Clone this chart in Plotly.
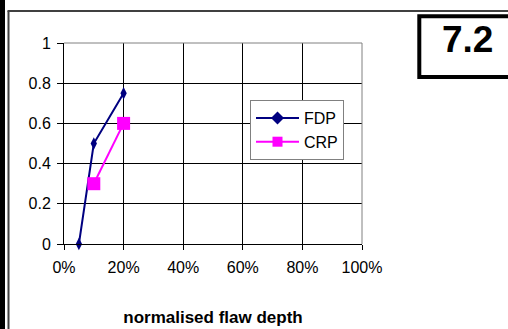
import plotly.graph_objects as go

# Normalised flaw depth (fraction) and probability values per series
fdp_depth = [0.05, 0.10, 0.20]
fdp_value = [0.0, 0.5, 0.75]
crp_depth = [0.10, 0.20]
crp_value = [0.3, 0.6]

x_ticks = [0, 0.2, 0.4, 0.6, 0.8, 1.0]
x_labels = ["0%", "20%", "40%", "60%", "80%", "100%"]
y_ticks = [0, 0.2, 0.4, 0.6, 0.8, 1.0]
y_labels = ["0", "0.2", "0.4", "0.6", "0.8", "1"]
x_title = "normalised flaw depth"
badge_text = "7.2"

FDP_COLOR = "#000080"
CRP_COLOR = "#FF00FF"
FONT = "Liberation Sans, Arial, sans-serif"

W_FIG, H_FIG = 508, 329
L, R, T, B = 64, 362, 43, 244  # plot area in pixels


def px(x):
    return (x - L) / (R - L)


def py(y):
    return (B - y) / (B - T)


fig = go.Figure()

# data traces (legend uses separate proxy entries)
fig.add_trace(go.Scatter(
    x=fdp_depth, y=fdp_value, mode="lines+markers", name="FDP",
    line=dict(color=FDP_COLOR, width=2),
    marker=dict(symbol="diamond-tall", size=9, color=FDP_COLOR),
    showlegend=False, cliponaxis=False,
))
fig.add_trace(go.Scatter(
    x=crp_depth, y=crp_value, mode="lines+markers", name="CRP",
    line=dict(color=CRP_COLOR, width=2),
    marker=dict(symbol="square", size=13, color=CRP_COLOR),
    showlegend=False, cliponaxis=False,
))
# legend entries
fig.add_trace(go.Scatter(
    x=[None], y=[None], mode="lines+markers", name="FDP",
    line=dict(color=FDP_COLOR, width=2),
    marker=dict(symbol="diamond", size=10, color=FDP_COLOR),
))
fig.add_trace(go.Scatter(
    x=[None], y=[None], mode="lines+markers", name="CRP",
    line=dict(color=CRP_COLOR, width=2),
    marker=dict(symbol="square", size=10, color=CRP_COLOR),
))

shapes = [
    # heavy black strip on the left edge
    dict(type="rect", xref="paper", yref="paper",
         x0=px(0), x1=px(5), y0=py(0), y1=py(H_FIG + 5),
         fillcolor="black", line=dict(width=0), layer="above"),
    # chart frame (left and top)
    dict(type="line", xref="paper", yref="paper",
         x0=px(8.5), x1=px(8.5), y0=py(11), y1=py(H_FIG + 5),
         line=dict(color="#404040", width=2)),
    dict(type="line", xref="paper", yref="paper",
         x0=px(7.5), x1=px(W_FIG + 5), y0=py(11), y1=py(11),
         line=dict(color="#404040", width=2)),
    # plot area border (top and right, grey)
    dict(type="line", xref="paper", yref="paper",
         x0=0, x1=1, y0=1, y1=1,
         line=dict(color="#808080", width=1), layer="above"),
    dict(type="line", xref="paper", yref="paper",
         x0=1, x1=1, y0=0, y1=1,
         line=dict(color="#808080", width=1), layer="above"),
    # badge box
    dict(type="rect", xref="paper", yref="paper",
         x0=px(419.3), x1=px(W_FIG + 20), y0=py(77), y1=py(16.3),
         fillcolor="white", line=dict(color="black", width=4),
         layer="below"),
]

annotations = [
    dict(text="<b>%s</b>" % badge_text, xref="paper", yref="paper",
         x=px(467), y=py(39.5), xanchor="center", yanchor="middle",
         showarrow=False, font=dict(family=FONT, size=37, color="black")),
]

fig.update_layout(
    width=W_FIG, height=H_FIG,
    margin=dict(l=L, r=W_FIG - R, t=T, b=H_FIG - B, pad=0),
    paper_bgcolor="white", plot_bgcolor="white",
    font=dict(family=FONT, color="black"),
    shapes=shapes, annotations=annotations,
    legend=dict(
        x=px(250), y=py(100), xanchor="left", yanchor="top",
        bgcolor="white", bordercolor="#808080", borderwidth=1,
        font=dict(family=FONT, size=16, color="black"),
        tracegroupgap=0, itemwidth=43,
    ),
    xaxis=dict(
        range=[0, 1], tickvals=x_ticks, ticktext=x_labels,
        showgrid=True, gridcolor="black", gridwidth=1,
        showline=True, linecolor="black", linewidth=1,
        ticks="outside", ticklen=5, tickcolor="black",
        tickfont=dict(family=FONT, size=16, color="black"),
        ticklabelstandoff=4,
        zeroline=False,
        title=dict(text="<b>%s</b>" % x_title, standoff=35,
                   font=dict(family=FONT, size=17, color="black")),
        automargin=False,
    ),
    yaxis=dict(
        range=[0, 1], tickvals=y_ticks, ticktext=y_labels,
        showgrid=True, gridcolor="black", gridwidth=1,
        showline=True, linecolor="black", linewidth=1,
        ticks="outside", ticklen=6, tickcolor="black",
        tickfont=dict(family=FONT, size=16, color="black"),
        ticklabelstandoff=3,
        zeroline=False, automargin=False,
    ),
)

fig.write_html("out.html")
